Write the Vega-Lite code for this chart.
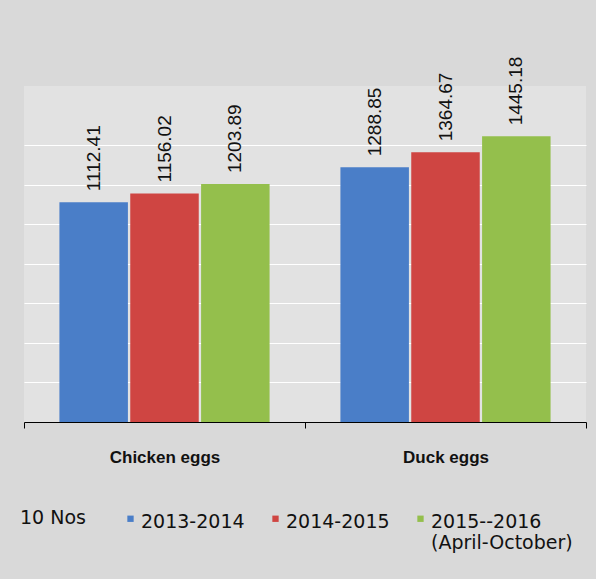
{
  "$schema": "https://vega.github.io/schema/vega-lite/v6.json",
  "width": 562,
  "height": 336,
  "autosize": {"type": "none"},
  "padding": {"left": 24, "top": 86, "right": 10, "bottom": 157},
  "background": "#d9d9d9",
  "config": {
    "view": {"fill": "#e2e2e2", "stroke": null}
  },
  "data": {
    "values": [
      {"item": "Chicken eggs", "year": "2013-2014", "value": 1112.41},
      {"item": "Chicken eggs", "year": "2014-2015", "value": 1156.02},
      {"item": "Chicken eggs", "year": "2015--2016", "value": 1203.89},
      {"item": "Duck eggs", "year": "2013-2014", "value": 1288.85},
      {"item": "Duck eggs", "year": "2014-2015", "value": 1364.67},
      {"item": "Duck eggs", "year": "2015--2016", "value": 1445.18}
    ]
  },
  "encoding": {
    "x": {
      "field": "item",
      "type": "nominal",
      "sort": null,
      "scale": {"paddingInner": 0, "paddingOuter": 0},
      "axis": {
        "title": null,
        "labelAngle": 0,
        "labelFont": "Liberation Sans",
        "labelFontWeight": "bold",
        "labelFontSize": 17,
        "labelColor": "#111111",
        "labelPadding": 21,
        "domainColor": "#000000",
        "domainWidth": 1.2,
        "tickColor": "#000000",
        "tickSize": 6,
        "tickBand": "extent"
      }
    },
    "xOffset": {
      "field": "year",
      "type": "nominal",
      "sort": null,
      "scale": {"paddingInner": 0.033, "paddingOuter": 0.5}
    },
    "y": {
      "field": "value",
      "type": "quantitative",
      "scale": {"domain": [0, 1700], "nice": false},
      "axis": {
        "title": null,
        "labels": false,
        "ticks": false,
        "domain": false,
        "values": [200, 400, 600, 800, 1000, 1200, 1400],
        "gridColor": "#ffffff",
        "gridWidth": 1.2
      }
    }
  },
  "layer": [
    {
      "mark": {"type": "bar"},
      "encoding": {
        "color": {
          "field": "year",
          "type": "nominal",
          "sort": null,
          "scale": {
            "domain": ["2013-2014", "2014-2015", "2015--2016"],
            "range": ["#4a7ec8", "#cf4542", "#94bf4c"]
          },
          "legend": {
            "title": "10 Nos",
            "titleOrient": "left",
            "titleFont": "DejaVu Sans",
            "titleFontSize": 19,
            "titleFontWeight": "normal",
            "titleColor": "#111111",
            "titleBaseline": "line-top",
            "titleLineHeight": 30,
            "titleAnchor": "start",
            "titlePadding": 35,
            "orient": "none",
            "direction": "horizontal",
            "legendX": -4,
            "legendY": 417,
            "symbolType": "M-1,0.9H1V2.9H-1Z",
            "symbolSize": 40,
            "symbolStrokeWidth": 0,
            "labelFont": "DejaVu Sans",
            "labelFontSize": 19,
            "labelColor": "#111111",
            "labelOffset": 1,
            "labelBaseline": "top",
            "labelExpr": "datum.label == '2015--2016' ? ['2015--2016', '(April-October)'] : [datum.label, '']",
            "columnPadding": 21
          }
        }
      }
    },
    {
      "mark": {
        "type": "text",
        "angle": -90,
        "align": "left",
        "baseline": "middle",
        "dx": 11,
        "font": "Liberation Sans",
        "fontSize": 19,
        "color": "#111111"
      },
      "encoding": {
        "text": {"field": "value", "type": "quantitative", "format": ".2f"}
      }
    }
  ]
}
